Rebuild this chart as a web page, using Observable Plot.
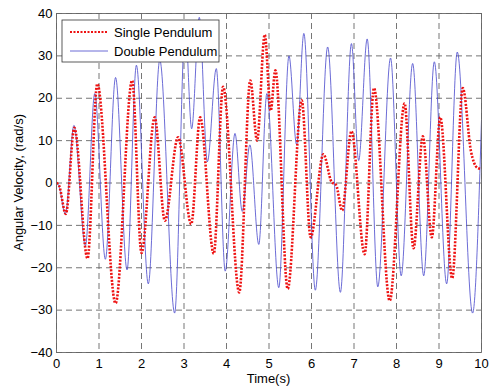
<!DOCTYPE html>
<html><head><meta charset="utf-8">
<script src="https://cdn.jsdelivr.net/npm/d3@7"></script>
<script src="https://cdn.jsdelivr.net/npm/@observablehq/plot@0.6"></script>
<style>
body{margin:0;background:#fff;}
#chart{width:491px;height:389px;}
</style></head><body><div id="chart"></div>
<script>
const xTicks = [0,1,2,3,4,5,6,7,8,9,10];
const yTicks = [-40,-30,-20,-10,0,10,20,30,40];
const seriesNames = ["Single Pendulum","Double Pendulum"];
const xLabel = "Time(s)";
const yLabel = "Angular Velocity, (rad/s)";

const singleTime = [0,0.06,0.22,0.42,0.73,0.96,1.39,1.78,2.0,2.31,2.55,2.86,3.17,3.38,3.70,3.92,4.30,4.56,4.72,4.90,5.04,5.15,5.44,5.77,5.98,6.28,6.47,6.58,6.72,6.94,7.25,7.47,7.84,8.19,8.40,8.62,8.83,9.03,9.31,9.56,9.75,9.90,10.0];
const singleVel = [0,-0.6,-7.3,13.0,-17.8,23.4,-28.4,24.2,-16.5,15.5,-8.9,10.8,-9.7,15.5,-16.7,22.7,-25.8,24.2,10.0,35.0,17.1,26.6,-25.0,19.5,-12.8,6.8,0.3,-0.5,-6.5,12.2,-16.8,22.4,-27.8,18.8,-15.4,11.0,-12.8,15.5,-22.5,22.4,7.6,3.6,3.3];

const doubleTime = [0,0.05,0.21,0.41,0.68,0.90,1.15,1.39,1.66,1.88,2.16,2.43,2.78,3.03,3.18,3.36,3.55,3.76,3.97,4.20,4.37,4.55,4.76,4.95,5.23,5.47,5.65,5.82,6.09,6.38,6.68,6.94,7.11,7.31,7.56,7.86,8.11,8.38,8.64,8.89,9.18,9.43,9.79,10.0];
const doubleVel = [0,-0.5,-7.3,13.6,-14.8,21.1,-18.0,24.9,-20.5,27.8,-23.8,29.0,-30.7,37.0,12.8,39.1,5.0,27.0,-20.8,11.7,-6.7,9.0,-14.5,21.1,-24.7,30.0,9.0,35.3,-25.3,32.1,-25.8,32.9,5.3,34.0,-24.5,29.5,-21.9,28.2,-21.9,28.6,-23.8,30.9,-30.7,14.8];

const singleRows = singleTime.map((t,i)=>({t, v: singleVel[i]}));
const doubleRows = doubleTime.map((t,i)=>({t, v: doubleVel[i]}));

const RED = "#ee1111", BLUE = "#4646cc";
const FONT = "'Liberation Sans', Arial, Helvetica, sans-serif";
const DOTS = "2,1.5";

const plot = Plot.plot({
  width: 491, height: 389,
  marginLeft: 56, marginRight: 10, marginTop: 13, marginBottom: 37,
  style: {fontFamily: FONT, fontSize: "13px", background: "#fff", color: "#000"},
  x: {domain: [0,10], label: null},
  y: {domain: [-40,40], label: null},
  marks: [
    Plot.gridX(xTicks, {stroke: "#666", strokeOpacity: 1, strokeWidth: 0.9, strokeDasharray: "6,4"}),
    Plot.gridY(yTicks, {stroke: "#666", strokeOpacity: 1, strokeWidth: 0.9, strokeDasharray: "6,4"}),
    Plot.line(doubleRows, {x: "t", y: "v", stroke: BLUE, strokeWidth: 0.8, curve: "monotone-x"}),
    Plot.line(singleRows, {x: "t", y: "v", stroke: RED, strokeWidth: 2.6, strokeDasharray: DOTS, strokeLinecap: "butt", curve: "monotone-x"}),
    Plot.frame({stroke: "#666", strokeWidth: 0.9}),
    Plot.axisX(xTicks, {anchor: "bottom", tickSize: 0, tickPadding: 6, label: null}),
    Plot.axisY(yTicks, {anchor: "left", tickSize: 0, tickPadding: 4, label: null})
  ]
});

document.getElementById("chart").appendChild(plot);

const svg = d3.select(plot);
// axis titles
svg.append("text").attr("x", 268.5).attr("y", 383).attr("text-anchor", "middle")
  .style("font-family", FONT).style("font-size", "13px").text(xLabel);
svg.append("text").attr("transform", "translate(23,182.5) rotate(-90)").attr("text-anchor", "middle")
  .style("font-family", FONT).style("font-size", "13px").text(yLabel);

// legend
const lg = svg.append("g");
lg.append("rect").attr("x", 62).attr("y", 20).attr("width", 157).attr("height", 42)
  .attr("fill", "#fff").attr("stroke", "#333").attr("stroke-width", 0.8);
lg.append("line").attr("x1", 70).attr("x2", 108).attr("y1", 32).attr("y2", 32)
  .attr("stroke", RED).attr("stroke-width", 2.2).attr("stroke-dasharray", DOTS);
lg.append("line").attr("x1", 70).attr("x2", 108).attr("y1", 51).attr("y2", 51)
  .attr("stroke", BLUE).attr("stroke-width", 0.8);
lg.append("text").attr("x", 114).attr("y", 36.5).attr("text-anchor", "start")
  .style("font-family", FONT).style("font-size", "13px").text(seriesNames[0]);
lg.append("text").attr("x", 114).attr("y", 55.5).attr("text-anchor", "start")
  .style("font-family", FONT).style("font-size", "13px").text(seriesNames[1]);
</script>
</body></html>
